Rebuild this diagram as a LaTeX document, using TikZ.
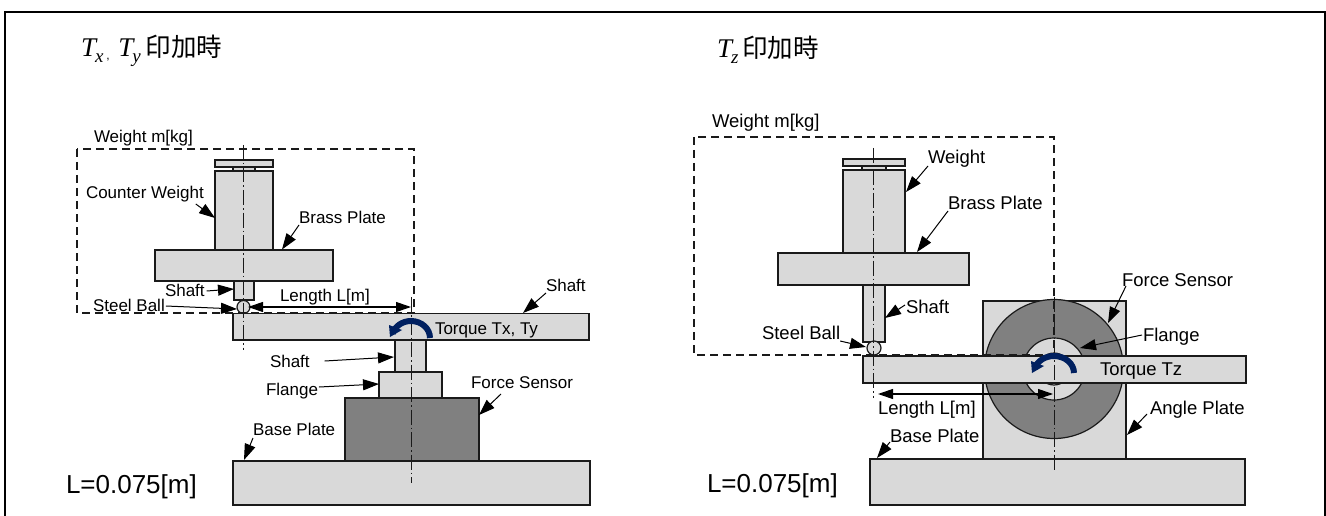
\documentclass[tikz,border=0pt]{standalone}
\usepackage{fontspec}
\setmainfont{Liberation Sans}
\newfontfamily\cjk{Noto Sans CJK JP}
\newfontfamily\mathish{Liberation Serif}
\usetikzlibrary{arrows.meta}
\definecolor{partgray}{HTML}{D9D9D9}
\definecolor{sensorgray}{HTML}{808080}
\definecolor{inkline}{HTML}{1A1A1A}
\definecolor{torquenavy}{HTML}{002060}
\tikzset{
  part/.style={draw=inkline,fill=partgray,line width=1.2pt,rectangle,inner sep=0,outer sep=0},
  sensorpart/.style={part,fill=sensorgray},
  roundpart/.style={draw=inkline,fill=partgray,line width=1.2pt,circle,inner sep=0,outer sep=0},
  roundsensor/.style={roundpart,fill=sensorgray},
  lab/.style={anchor=west,inner sep=0,outer sep=0,text=black,text height=12pt,text depth=0pt,font=\fontsize{17}{20}\selectfont},
  labr/.style={lab,font=\fontsize{18.5}{22}\selectfont},
  big/.style={anchor=west,inner sep=0,outer sep=0,text height=18pt,text depth=0pt,font=\fontsize{26}{30}\selectfont},
  title/.style={anchor=base west,inner sep=0,outer sep=0,font=\fontsize{25.5}{30}\selectfont},
  leader/.style={draw=black,line width=1pt,-{Triangle[length=16pt,width=11pt]}},
  dimline/.style={draw=black,line width=1.1pt,{Triangle[length=15pt,width=10pt]}-{Triangle[length=15pt,width=10pt]}},
  centerline/.style={draw=inkline,line width=1pt,dash pattern=on 15pt off 3pt on 1.5pt off 3pt},
  dashbox/.style={draw=inkline,line width=1.1pt,dash pattern=on 8pt off 5pt},
  torque/.style={draw=torquenavy,line width=6pt},
  frameline/.style={draw=black,line width=2.4pt}
}
\newcommand{\partrect}[6]{\node[#6,minimum width={(#4-#2)*1pt},minimum height={(#5-#3)*1pt}] (#1) at ({(#2+#4)/2},{(#3+#5)/2}) {};}
\newcommand{\partball}[5]{\node[#5,minimum size={2*#4*1pt}] (#1) at (#2,#3) {};}
\newcommand{\tsym}[1]{{\mathish\itshape\fontsize{27}{30}\selectfont T\kern-1pt\raisebox{-6pt}{\fontsize{19}{20}\selectfont #1}}}
\begin{document}
\begin{tikzpicture}[x=1pt,y=-1pt]
\useasboundingbox (0,0) rectangle (1326,516);
\coordinate (fa) at (5,516);
\coordinate (fb) at (5,12);
\coordinate (fc) at (1325,12);
\coordinate (fd) at (1325,516);
\draw[frameline] (fa) -- (fb) -- (fc) -- (fd);
% titles
\node[title] (t1) at (81,57) {\tsym{x}\kern3pt\raisebox{-3pt}{\fontsize{12}{12}\selectfont,}\kern8.5pt\tsym{y}\kern5pt{\cjk 印加時}};
\node[title] (t2) at (717,58) {\tsym{z}\kern4pt{\cjk 印加時}};
% ---------- left figure ----------
\partrect{Lbase}{233}{461}{590}{505}{part}
\partrect{Lsensor}{345}{398}{479}{461}{sensorpart}
\partrect{Lflange}{379}{372}{442}{398}{part}
\partrect{Lshaftb}{395}{340}{426}{372}{part}
\partrect{Lbeam}{233}{313.5}{589}{340}{part}
\partrect{Ltop}{215}{160}{273}{167}{part}
\partrect{Lneck}{233}{167}{255}{171}{part}
\partrect{Lcw}{215}{171}{273}{250}{part}
\partrect{Lbrass}{155}{250}{333}{281}{part}
\partrect{Lshaft}{234}{281}{254}{300}{part}
\partball{Lball}{243.5}{307}{6.5}{roundpart}
\coordinate (Lc1a) at (243.5,145);
\coordinate (Lc1b) at (243.5,350);
\coordinate (Lc2a) at (411,297);
\coordinate (Lc2b) at (411,483);
\draw[centerline] (Lc1a) -- (Lc1b);
\draw[centerline] (Lc2a) -- (Lc2b);
\coordinate (Lb1) at (77,149);
\coordinate (Lb2) at (414,313);
\draw[dashbox] (Lb1) rectangle (Lb2);
\coordinate (Ld1) at (248,307);
\coordinate (Ld2) at (411,307);
\draw[dimline] (Ld1) -- (Ld2);
\draw[torque] (430,338) arc[start angle=0,end angle=-165,x radius=19,y radius=17];
\fill[torquenavy] (390,337) -- (389,325) -- (402,330) -- cycle;
\node[lab] (lw1) at (94,137) {Weight m[kg]};
\node[lab] (lcw) at (86,192) {Counter Weight};
\node[lab] (lbp1) at (299,217) {Brass Plate};
\node[lab] (lsh1) at (165,290) {Shaft};
\node[lab] (lsb1) at (93,305) {Steel Ball};
\node[lab] (llen1) at (280,295) {Length L[m]};
\node[lab] (lsh2) at (546,285) {Shaft};
\node[lab] (ltq1) at (435,328) {Torque Tx, Ty};
\node[lab] (lsh3) at (270,361) {Shaft};
\node[lab] (lfl1) at (266,389) {Flange};
\node[lab] (lfs1) at (471,382) {Force Sensor};
\node[lab] (lbs1) at (253,429) {Base Plate};
\node[big] (lL1) at (66,484) {L=0.075[m]};
\coordinate (Ae1) at (215,218);
\coordinate (Ae2) at (282,249.5);
\coordinate (Ae3) at (234,289);
\coordinate (Ae4) at (237,309);
\coordinate (Ae5) at (523,313);
\coordinate (Ae6) at (394,357);
\coordinate (Ae7) at (379,384);
\coordinate (Ae8) at (479,415);
\coordinate (Ae9) at (244,460);
\draw[leader] ([xshift=-8pt,yshift=-6pt]lcw.south east) -- (Ae1);
\draw[leader] ([yshift=-2pt]lbp1.south west) -- (Ae2);
\draw[leader] ([xshift=2pt,yshift=-1pt]lsh1.east) -- (Ae3);
\draw[leader] ([xshift=1pt,yshift=-1pt]lsb1.east) -- (Ae4);
\draw[leader] ([yshift=-2pt]lsh2.south west) -- (Ae5);
\draw[leader] ([xshift=15pt]lsh3.east) -- (Ae6);
\draw[leader] ([xshift=1pt,yshift=2pt]lfl1.east) -- (Ae7);
\draw[leader] ([xshift=30pt,yshift=-6pt]lfs1.south west) -- (Ae8);
\draw[leader] ([yshift=-3pt]lbs1.south west) -- (Ae9);
% ---------- right figure ----------
\partrect{Rbase}{870}{459}{1245}{505}{part}
\partrect{Rangle}{983}{301}{1126}{459}{part}
\partball{Rsensor}{1054}{369}{69.5}{roundsensor}
\partball{Rflange}{1054}{369}{31}{roundpart}
\partball{Rinner}{1054}{369}{16}{roundpart}
\partrect{Rbeam}{863}{356}{1246}{383}{part}
\partrect{Rtop}{843}{159}{905}{166}{part}
\partrect{Rneck}{862}{166}{886}{170}{part}
\partrect{Rw}{843}{170}{905}{253}{part}
\partrect{Rbrass}{778}{253}{969}{285}{part}
\partrect{Rshaft}{863}{285}{885}{342}{part}
\partball{Rball}{874}{348}{7}{roundpart}
\coordinate (Rc1a) at (873.5,148);
\coordinate (Rc1b) at (873.5,398);
\coordinate (Rc2a) at (1054,297);
\coordinate (Rc2b) at (1054,472);
\draw[centerline] (Rc1a) -- (Rc1b);
\draw[centerline] (Rc2a) -- (Rc2b);
\coordinate (Rb1) at (694,137);
\coordinate (Rb2) at (1054,355);
\draw[dashbox] (Rb1) rectangle (Rb2);
\coordinate (Rd1) at (878,394);
\coordinate (Rd2) at (1053,394);
\draw[dimline] (Rd1) -- (Rd2);
\draw[torque] (1074,373) arc[start angle=0,end angle=-165,x radius=20,y radius=17];
\fill[torquenavy] (1032,373) -- (1031,361) -- (1044,366) -- cycle;
\node[labr] (rw1) at (712,122) {Weight m[kg]};
\node[labr] (rw2) at (928,158) {Weight};
\node[labr] (rbp) at (948,204) {Brass Plate};
\node[labr] (rsh) at (906,307) {Shaft};
\node[labr] (rsb) at (762,333) {Steel Ball};
\node[labr] (rfs) at (1122,280) {Force Sensor};
\node[labr] (rfl) at (1143,335) {Flange};
\node[labr] (rtq) at (1100,369) {Torque Tz};
\node[labr] (ran) at (1150,408) {Angle Plate};
\node[labr] (rlen) at (878,408) {Length L[m]};
\node[labr] (rbs) at (890,436) {Base Plate};
\node[big] (rL) at (707,483) {L=0.075[m]};
\coordinate (Be1) at (906,192);
\coordinate (Be2) at (917,252);
\coordinate (Be3) at (885,318);
\coordinate (Be4) at (866,347);
\coordinate (Be5) at (1108,323);
\coordinate (Be6) at (1080,348);
\coordinate (Be7) at (1127,435);
\coordinate (Be8) at (877,458);
\draw[leader] ([yshift=-2pt]rw2.south west) -- (Be1);
\draw[leader] ([yshift=-1pt]rbp.south west) -- (Be2);
\draw[leader] ([xshift=-1pt,yshift=2pt]rsh.west) -- (Be3);
\draw[leader] ([yshift=-2pt]rsb.south east) -- (Be4);
\draw[leader] ([xshift=4pt,yshift=0pt]rfs.south west) -- (Be5);
\draw[leader] ([xshift=-1pt]rfl.west) -- (Be6);
\draw[leader] ([xshift=-3pt,yshift=0pt]ran.south west) -- (Be7);
\draw[leader] ([yshift=0pt]rbs.south west) -- (Be8);
\end{tikzpicture}
\end{document}
